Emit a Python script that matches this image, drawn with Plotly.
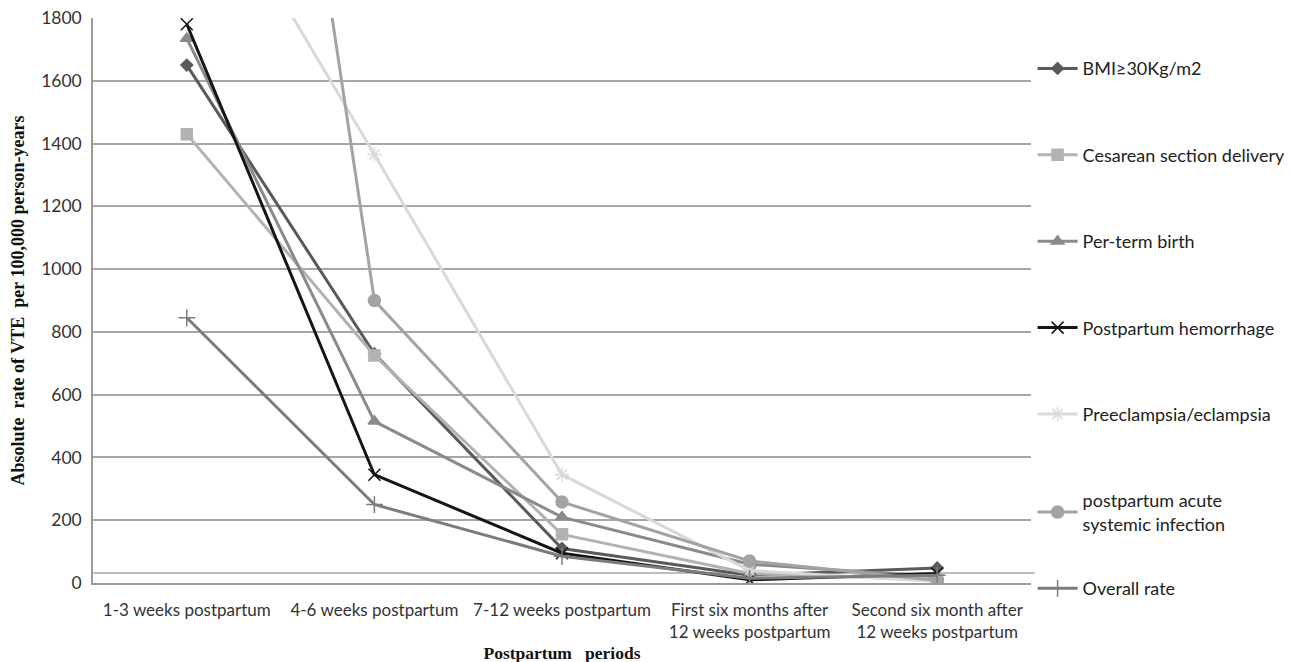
import plotly.graph_objects as go

categories = [
    "1-3 weeks postpartum",
    "4-6 weeks postpartum",
    "7-12 weeks postpartum",
    "First six months after<br>12 weeks postpartum",
    "Second six month after<br>12 weeks postpartum",
]

bmi = [1650, 730, 110, 25, 48]
cesarean = [1430, 725, 155, 30, 10]
preterm = [1735, 515, 210, 60, 20]
hemorrhage = [1780, 345, 95, 10, 30]
preeclampsia = [2370, 1365, 345, 40, 5]
infection = [4900, 900, 258, 70, 8]
overall = [845, 250, 85, 15, 25]

series_names = [
    "BMI≥30Kg/m2",
    "Cesarean section delivery",
    "Per-term birth",
    "Postpartum hemorrhage",
    "Preeclampsia/eclampsia",
    "postpartum acute<br>systemic infection",
    "Overall rate",
]
series_values = [bmi, cesarean, preterm, hemorrhage, preeclampsia, infection, overall]
colors = ["#5a5a5a", "#b2b2b2", "#8a8a8a", "#151515", "#d9d9d9", "#a3a3a3", "#7c7c7c"]
symbols = ["diamond", "square", "triangle-up", "x-thin-open", "asterisk-open", "circle", "cross-thin-open"]
sizes = [9, 11, 11, 12, 12, 12, 12]

fig = go.Figure()
for i, (name, vals, col, sym, sz) in enumerate(zip(series_names, series_values, colors, symbols, sizes)):
    fig.add_trace(go.Scatter(
        x=categories, y=vals, name=name, mode="lines+markers",
        line=dict(color=col, width=3),
        marker=dict(symbol=sym, size=sz, color=col, line=dict(color=col, width=1.5)),
        legendgroup=f"g{i}", cliponaxis=True,
        legend="legend2" if i == len(series_names) - 1 else "legend",
    ))

fig.add_shape(type="line", xref="paper", yref="y", x0=0, x1=1.004, y0=32, y1=32,
              line=dict(color="#a6a6a6", width=1.5), layer="below")

serif = "'Liberation Serif', 'Times New Roman', serif"
legend_common = dict(x=1.0017, xanchor="left", font=dict(size=18, color="#222222"),
                     itemwidth=40, bgcolor="rgba(0,0,0,0)", maxheight=640)
fig.update_layout(
    width=1292, height=662,
    margin=dict(l=85, r=269, t=10, b=87, autoexpand=False),
    paper_bgcolor="white", plot_bgcolor="white",
    font=dict(family="Lato, 'Open Sans', sans-serif", size=17, color="#333333"),
    showlegend=True,
    legend=dict(y=0.943, yanchor="top", tracegroupgap=60, **legend_common),
    legend2=dict(y=-0.01, yanchor="middle", **legend_common),
    xaxis=dict(
        type="category", range=[-0.5, 4.5], showgrid=False, showline=True, linecolor="#9a9a9a", linewidth=1.5,
        ticks="", tickfont=dict(size=17, color="#333333"), ticklabelstandoff=11,
        ticklabeloverflow="allow",
        title=dict(text="<b>Postpartum   periods</b>", font=dict(family=serif, size=17.5, color="#111111"), standoff=5),
    ),
    yaxis=dict(
        range=[0, 1800], dtick=200, showgrid=True, gridcolor="#a6a6a6", gridwidth=1.5,
        showline=True, linecolor="#9a9a9a", linewidth=1.5, ticks="",
        zeroline=False, tickfont=dict(size=17.5, color="#333333"), ticklabelstandoff=6,
        ticklabeloverflow="allow",
        title=dict(text="<b>Absolute  rate of VTE  per 100,000 person-years</b>", font=dict(family=serif, size=18, color="#111111"), standoff=16),
    ),
)

fig.write_html("out.html")
